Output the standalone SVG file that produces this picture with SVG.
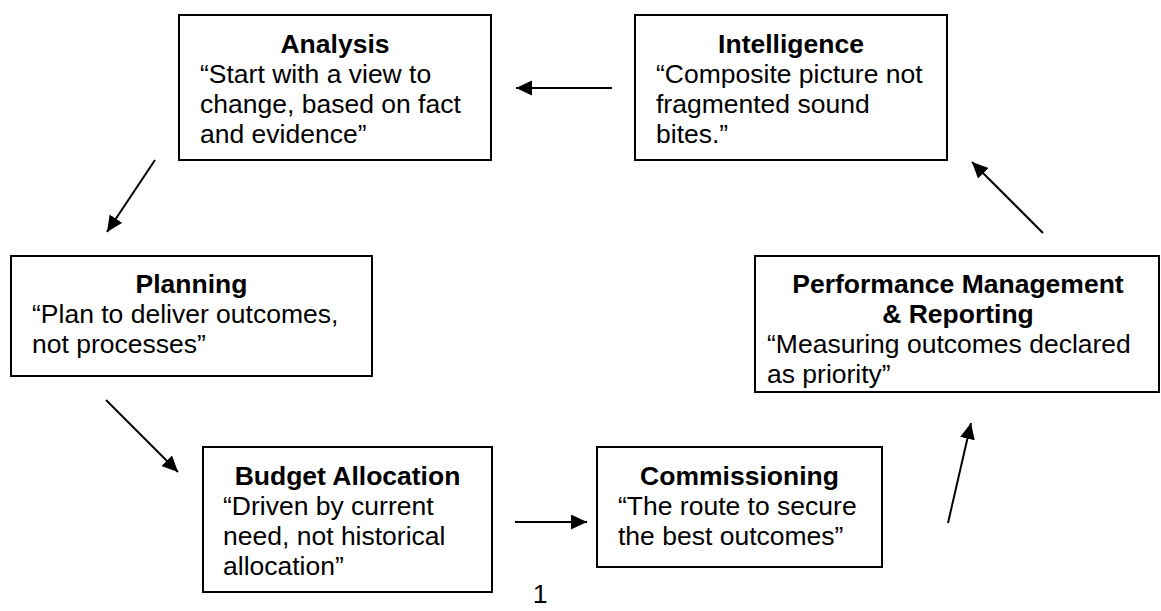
<svg xmlns="http://www.w3.org/2000/svg" width="1161" height="611" viewBox="0 0 1161 611">
<style>
.box{fill:#fff;stroke:#000;stroke-width:2}
.t{font-family:"Liberation Sans",Arial,sans-serif;font-size:26.5px;fill:#000}
.b{font-weight:bold;text-anchor:middle}
.c{stroke:#000;stroke-width:2;fill:none}
</style>
<defs>
<marker id="ah" markerUnits="userSpaceOnUse" markerWidth="18" markerHeight="16" refX="16" refY="7.5" orient="auto">
<path d="M0,0 L16,7.5 L0,15 Z" fill="#000"/>
</marker>
</defs>
<rect width="1161" height="611" fill="#fff"/>
<g id="analysis">
<rect class="box" x="179" y="15" width="312" height="145"/>
<text class="t b" x="335" y="52.7">Analysis</text>
<text class="t" x="200" y="82.7">“Start with a view to</text>
<text class="t" x="200" y="112.7">change, based on fact</text>
<text class="t" x="200" y="142.7">and evidence”</text>
</g>
<g id="intelligence">
<rect class="box" x="635" y="15" width="312" height="145"/>
<text class="t b" x="791" y="52.7">Intelligence</text>
<text class="t" x="656" y="82.7">“Composite picture not</text>
<text class="t" x="656" y="112.7">fragmented sound</text>
<text class="t" x="656" y="142.7">bites.”</text>
</g>
<g id="planning">
<rect class="box" x="11" y="256" width="361" height="120"/>
<text class="t b" x="191.5" y="292.7">Planning</text>
<text class="t" x="32" y="322.7">“Plan to deliver outcomes,</text>
<text class="t" x="32" y="352.7">not processes”</text>
</g>
<g id="performance">
<rect class="box" x="755" y="256" width="404" height="136"/>
<text class="t b" x="958" y="292.7">Performance Management</text>
<text class="t b" x="958" y="322.7">&amp; Reporting</text>
<text class="t" x="767" y="352.7">“Measuring outcomes declared</text>
<text class="t" x="767" y="382.7">as priority”</text>
</g>
<g id="budget">
<rect class="box" x="203" y="447" width="289" height="145"/>
<text class="t b" x="347.5" y="485">Budget Allocation</text>
<text class="t" x="223" y="515">“Driven by current</text>
<text class="t" x="223" y="545">need, not historical</text>
<text class="t" x="223" y="575">allocation”</text>
</g>
<g id="commissioning">
<rect class="box" x="597" y="447" width="285" height="120"/>
<text class="t b" x="739.5" y="485">Commissioning</text>
<text class="t" x="618" y="515">“The route to secure</text>
<text class="t" x="618" y="545">the best outcomes”</text>
</g>
<g id="connectors">
<line class="c" x1="612" y1="88" x2="516" y2="88" marker-end="url(#ah)"/>
<line class="c" x1="155" y1="160" x2="107" y2="232" marker-end="url(#ah)"/>
<line class="c" x1="106" y1="400" x2="178" y2="472" marker-end="url(#ah)"/>
<line class="c" x1="515" y1="522" x2="587" y2="522" marker-end="url(#ah)"/>
<line class="c" x1="948" y1="523" x2="971" y2="423" marker-end="url(#ah)"/>
<line class="c" x1="1043" y1="233" x2="972" y2="162" marker-end="url(#ah)"/>
</g>
<text class="t" x="540" y="603" text-anchor="middle">1</text>
</svg>
